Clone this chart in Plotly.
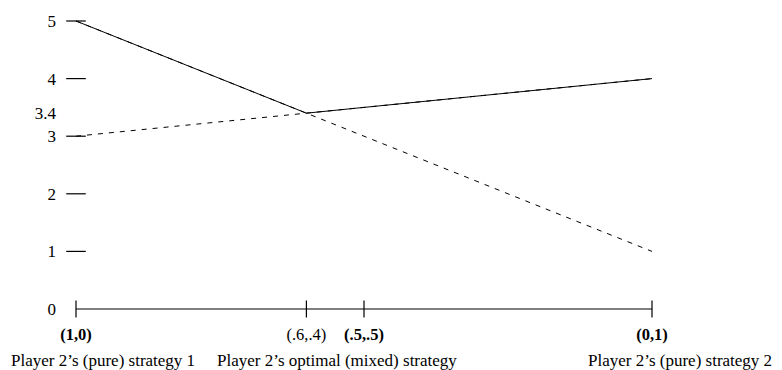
import plotly.graph_objects as go

# x = probability that Player 2 plays strategy 2
x_ends = [0, 1]
payoff_a = [5, 1]          # dashed line from 5 down to 1
payoff_b = [3, 4]          # dashed line from 3 up to 4
env_x = [0, 0.4, 1]
env_y = [5, 3.4, 4]        # solid upper envelope

x_tickvals = [0, 0.4, 0.5, 1]
x_ticktext = ["<b>(1,0)</b>", "(.6,.4)", "<b>(.5,.5)</b>", "<b>(0,1)</b>"]
y_tickvals = [0, 1, 2, 3, 3.4, 4, 5]
y_ticktext = ["0", "1", "2", "3", "3.4", "4", "5"]
y_dash_vals = [1, 2, 3, 4, 5]

captions = ["Player 2\u2019s (pure) strategy 1",
            "Player 2\u2019s optimal (mixed) strategy",
            "Player 2\u2019s (pure) strategy 2"]
caption_x = [-0.0737, 0.2427, 1.1015]
caption_anchor = ["left", "left", "right"]

FONT = "Liberation Serif"

fig = go.Figure()
fig.add_trace(go.Scatter(x=x_ends, y=payoff_a, mode="lines",
                         line=dict(color="black", width=1, dash="5px,6px"),
                         hoverinfo="skip", cliponaxis=False))
fig.add_trace(go.Scatter(x=x_ends, y=payoff_b, mode="lines",
                         line=dict(color="black", width=1, dash="5px,6px"),
                         hoverinfo="skip", cliponaxis=False))
fig.add_trace(go.Scatter(x=env_x, y=env_y, mode="lines",
                         line=dict(color="black", width=1),
                         hoverinfo="skip", cliponaxis=False))
# x axis line
fig.add_trace(go.Scatter(x=x_ends, y=[0, 0], mode="lines",
                         line=dict(color="black", width=1.2),
                         hoverinfo="skip", cliponaxis=False))
# x ticks (crossing the axis line)
fig.add_trace(go.Scatter(x=x_tickvals, y=[0] * len(x_tickvals), mode="markers",
                         marker=dict(symbol="line-ns", size=12,
                                     line=dict(color="black", width=1.2)),
                         hoverinfo="skip", cliponaxis=False))
# y tick dashes
fig.add_trace(go.Scatter(x=[0] * len(y_dash_vals), y=y_dash_vals, mode="markers",
                         marker=dict(symbol="line-ew", size=14,
                                     line=dict(color="black", width=1.2)),
                         hoverinfo="skip", cliponaxis=False))

for txt, cx, anc in zip(captions, caption_x, caption_anchor):
    fig.add_annotation(x=cx, y=-0.1226, xref="paper", yref="paper", text=txt,
                       showarrow=False, xanchor=anc, yanchor="middle",
                       font=dict(family=FONT, size=17, color="black"))

fig.update_layout(
    width=774, height=362,
    margin=dict(l=49, r=74, t=4, b=48),
    paper_bgcolor="white", plot_bgcolor="white",
    showlegend=False,
    font=dict(family=FONT, size=17, color="black"),
    xaxis=dict(range=[-0.03299, 1.09722], showgrid=False, zeroline=False,
               showline=False, ticks="", tickvals=x_tickvals, ticktext=x_ticktext,
               tickfont=dict(family=FONT, size=16.5, color="black"),
               fixedrange=True, automargin=False),
    yaxis=dict(range=[-0.2257, 5.15625], showgrid=False, zeroline=False,
               showline=False, ticks="", tickvals=y_tickvals, ticktext=y_ticktext,
               tickfont=dict(family=FONT, size=17, color="black"),
               fixedrange=True, automargin=False),
)

fig.write_html("out.html")
